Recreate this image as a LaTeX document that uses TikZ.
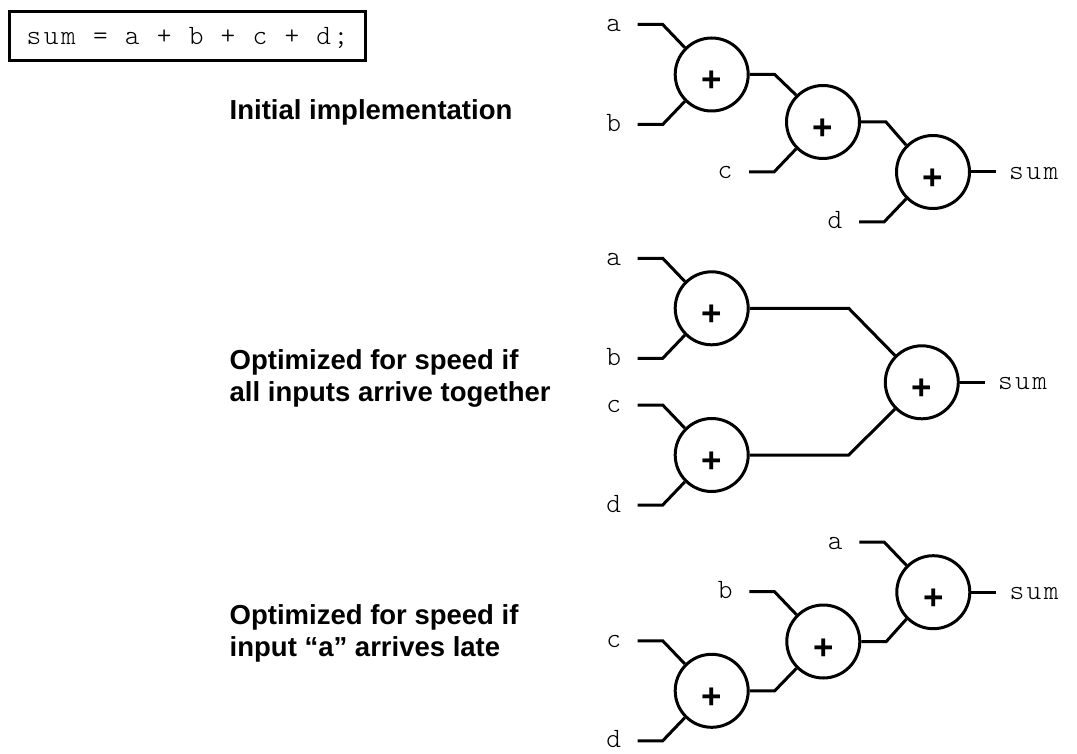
\documentclass[tikz,border=0pt]{standalone}
\usepackage{fontspec}
\setmainfont{Liberation Sans}
\setmonofont{Latin Modern Mono Light}[LetterSpace=9]
\usetikzlibrary{calc}
\newcommand\upin[2]{%
  \draw[wire] ($(#1)+(-74,-50)$) -- ($(#1)+(-49,-50)$) -- (#1.135);
  \node[lbl,anchor=base east] (#1-u) at ($(#1)+(-90.5,-43)$) {#2};}
\newcommand\loin[2]{%
  \draw[wire] ($(#1)+(-74,50)$) -- ($(#1)+(-49,50)$) -- (#1.-135);
  \node[lbl,anchor=base east] (#1-l) at ($(#1)+(-90.5,57)$) {#2};}
\newcommand\sumout[1]{%
  \draw[wire] (#1.east) -- ++(25,0) coordinate (#1-o);
  \node[lbl,anchor=base west] (#1-s) at ($(#1-o)+(13,7.5)$) {sum};}
\begin{document}
\begin{tikzpicture}[x=1pt,y=-1pt,
  wire/.style={line width=3pt},
  adder/.style={circle,draw,line width=3pt,minimum size=73pt,inner sep=0pt,
    text height=36pt,text depth=1pt,font=\fontsize{35}{40}\selectfont\bfseries},
  lbl/.style={font=\fontsize{28}{32}\selectfont\ttfamily,inner sep=0pt},
  caption/.style={font=\fontsize{27.5}{32}\selectfont\bfseries,inner sep=0pt,anchor=base west},
  codebox/.style={draw,line width=3pt,minimum width=356pt,minimum height=49pt,inner sep=0pt,
    text height=20pt,text depth=2pt,font=\fontsize{28}{32}\selectfont\ttfamily}]
\useasboundingbox (0,0) rectangle (1077,754);

% code box
\node[codebox] (code) at (187.5,36) {sum = a + b + c + d;};

% captions
\node[caption] (t1) at (229.5,119.3) {Initial implementation};
\node[caption] (t2a) at (229.5,369.3) {Optimized for speed if};
\node[caption] (t2b) at (229.5,401.3) {all inputs arrive together};
\node[caption] (t3a) at (229.5,624.3) {Optimized for speed if};
\node[caption] (t3b) at (229.5,656.5) {input “a” arrives late};

% diagram 1
\node[adder] (A1) at (711.7,74.5) {+};
\node[adder] (A2) at (823,122) {+};
\node[adder] (A3) at (933,172) {+};
\upin{A1}{a}\loin{A1}{b}
\loin{A2}{c}
\loin{A3}{d}
\draw[wire] (A1.east) -- ++(25,0) -- (A2.135);
\draw[wire] (A2.east) -- ++(25,0) -- (A3.135);
\sumout{A3}

% diagram 2
\node[adder] (B1) at (711.7,308.3) {+};
\node[adder] (B2) at (711.7,455) {+};
\node[adder] (B3) at (921.8,382.3) {+};
\upin{B1}{a}\loin{B1}{b}
\upin{B2}{c}\loin{B2}{d}
\draw[wire] (B1.east) -- ++(99,0) -- (B3.135);
\draw[wire] (B2.east) -- ++(99,0) -- (B3.-135);
\sumout{B3}

% diagram 3
\node[adder] (C1) at (711.7,690.8) {+};
\node[adder] (C2) at (823.3,641.5) {+};
\node[adder] (C3) at (933.3,592.2) {+};
\upin{C1}{c}\loin{C1}{d}
\upin{C2}{b}
\upin{C3}{a}
\draw[wire] (C1.east) -- ++(25,0) -- (C2.-135);
\draw[wire] (C2.east) -- ++(25,0) -- (C3.-135);
\sumout{C3}
\end{tikzpicture}
\end{document}
